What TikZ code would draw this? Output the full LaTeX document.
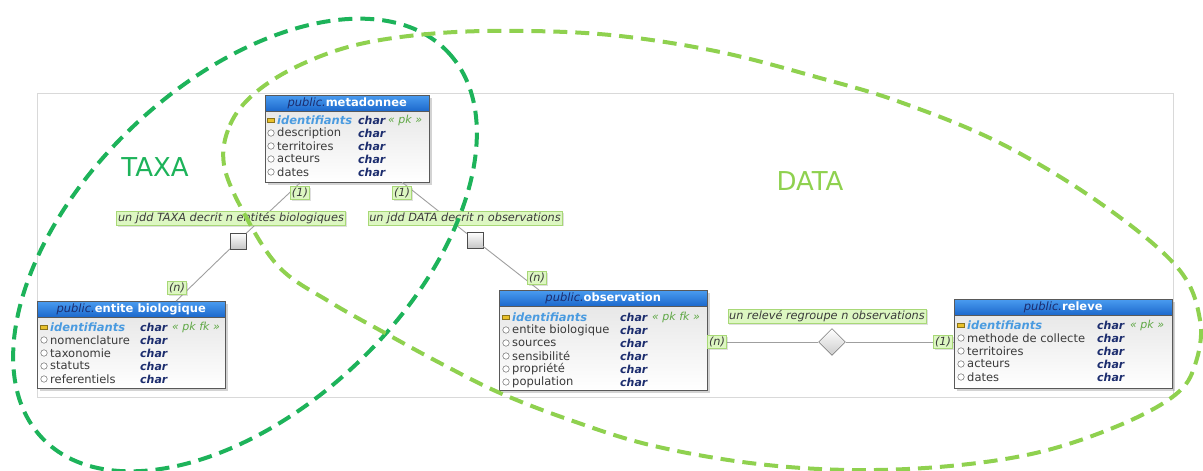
\documentclass[tikz,border=0pt]{standalone}
\usepackage{fontspec}
\setmainfont{DejaVu Sans}
\usepackage{xcolor}
\usetikzlibrary{shapes.geometric,shadows}

\definecolor{taxavert}{HTML}{1DB35A}
\definecolor{datavert}{HTML}{8FD14F}
\definecolor{bleuhaut}{HTML}{4A9CF0}
\definecolor{bleubas}{HTML}{1C68CC}
\definecolor{marine}{HTML}{1C2D6E}
\definecolor{bleuid}{HTML}{4A9BE0}
\definecolor{vertpk}{HTML}{5FA845}
\definecolor{texte}{HTML}{3A3A3A}
\definecolor{vertpale}{HTML}{DDF7C2}
\definecolor{vertbord}{HTML}{A8D877}
\definecolor{clejaune}{HTML}{E8C02A}

\begin{document}
\begin{tikzpicture}[x=1pt, y=-1pt,
      table/.style = {draw=gray!70!black, anchor=north west, inner sep=0pt,
        top color=gray!22, bottom color=white,
        drop shadow={shadow xshift=2.5pt, shadow yshift=-2.5pt, opacity=.35}},
      titre/.style = {draw=gray!70!black, anchor=north west, inner sep=0pt,
        minimum height=16, top color=bleuhaut, bottom color=bleubas,
        font=\fontsize{11.5}{13}\selectfont},
      champ/.style = {anchor=west, inner sep=0pt, text=texte,
        font=\fontsize{11.5}{13}\selectfont},
      ident/.style = {champ, text=bleuid,
        font=\fontsize{11.5}{13}\selectfont\bfseries\itshape},
      typ/.style = {champ, text=marine,
        font=\fontsize{11}{13}\selectfont\bfseries\itshape},
      contrainte/.style = {champ, text=vertpk,
        font=\fontsize{11}{13}\selectfont\itshape},
      rond/.style = {circle, draw=gray!60!black, fill=white,
        minimum size=6.5, inner sep=0pt},
      cle/.style = {rectangle, draw=clejaune!60!black, fill=clejaune,
        minimum width=7, minimum height=4, inner sep=0pt},
      carte/.style = {draw=vertbord, fill=vertpale, inner sep=1.5pt,
        font=\fontsize{11.3}{13}\selectfont\itshape, text=texte,
        drop shadow={shadow xshift=1.5pt, shadow yshift=-1.5pt, opacity=.25}},
      assoc/.style = {rectangle, draw=gray!60!black, top color=white,
        bottom color=gray!45, minimum size=16, inner sep=0pt},
      losange/.style = {diamond, draw=gray!60!black, top color=white,
        bottom color=gray!40, minimum width=27, minimum height=27, inner sep=0pt},
      lien/.style = {draw=gray!75, line width=0.9},
      ens/.style = {line width=4, dash pattern=on 14pt off 8pt},
      grand/.style = {font=\fontsize{26}{30}\selectfont}]
  \useasboundingbox (0,0) rectangle (1203,471);
  \draw[draw=gray!30, line width=0.8] (37,93) rectangle (1173,397);

  % metadonnee
  \node[table, minimum width=164, minimum height=87] (meta) at (265,95) {};
  \node[titre, minimum width=164] (meta-h) at (265,95)
    {\textcolor{marine}{\textit{public.}}\textcolor{white}{\textbf{metadonnee}}};
  \node[cle] (meta-k) at (271,120) {};
  \node[ident] (meta-id) at (277,120) {identifiants};
  \foreach \nom [count=\i] in {description,territoires,acteurs,dates}{
    \node[rond] (meta-r\i) at (271,120+13*\i) {};
    \node[champ] (meta-c\i) at (277,120+13*\i) {\nom};
  }
  \foreach \i in {0,...,4}
    \node[typ] (meta-t\i) at (358,120+13*\i) {char};
  \node[contrainte] (meta-pk) at (388,120) {« pk »};

  % entite biologique
  \node[table, minimum width=188, minimum height=87] (ent) at (37,301) {};
  \node[titre, minimum width=188] (ent-h) at (37,301)
    {\textcolor{marine}{\textit{public.}}\textcolor{white}{\textbf{entite biologique}}};
  \node[cle] (ent-k) at (44,327) {};
  \node[ident] (ent-id) at (50,327) {identifiants};
  \foreach \nom [count=\i] in {nomenclature,taxonomie,statuts,referentiels}{
    \node[rond] (ent-r\i) at (44,327+13*\i) {};
    \node[champ] (ent-c\i) at (50,327+13*\i) {\nom};
  }
  \foreach \i in {0,...,4}
    \node[typ] (ent-t\i) at (140,327+13*\i) {char};
  \node[contrainte] (ent-pk) at (172,327) {« pk fk »};

  % observation
  \node[table, minimum width=208, minimum height=100] (obs) at (499,290) {};
  \node[titre, minimum width=208] (obs-h) at (499,290)
    {\textcolor{marine}{\textit{public.}}\textcolor{white}{\textbf{observation}}};
  \node[cle] (obs-k) at (506,317) {};
  \node[ident] (obs-id) at (512,317) {identifiants};
  \foreach \nom [count=\i] in {entite biologique,sources,sensibilité,propriété,population}{
    \node[rond] (obs-r\i) at (506,317+13*\i) {};
    \node[champ] (obs-c\i) at (512,317+13*\i) {\nom};
  }
  \foreach \i in {0,...,5}
    \node[typ] (obs-t\i) at (620,317+13*\i) {char};
  \node[contrainte] (obs-pk) at (652,317) {« pk fk »};

  % releve
  \node[table, minimum width=218, minimum height=89] (rel) at (954,299) {};
  \node[titre, minimum width=218] (rel-h) at (954,299)
    {\textcolor{marine}{\textit{public.}}\textcolor{white}{\textbf{releve}}};
  \node[cle] (rel-k) at (961,325) {};
  \node[ident] (rel-id) at (967,325) {identifiants};
  \foreach \nom [count=\i] in {methode de collecte,territoires,acteurs,dates}{
    \node[rond] (rel-r\i) at (961,325+13*\i) {};
    \node[champ] (rel-c\i) at (967,325+13*\i) {\nom};
  }
  \foreach \i in {0,...,4}
    \node[typ] (rel-t\i) at (1097,325+13*\i) {char};
  \node[contrainte] (rel-pk) at (1130,325) {« pk »};

  % relations
  \node[assoc] (decrit1) at (238,241) {};
  \node[assoc] (decrit2) at (475,240) {};
  \node[losange] (regroupe) at (832,342) {};
  \draw[lien] (meta) -- (decrit1) -- (ent);
  \draw[lien] (meta) -- (decrit2) -- (obs);
  \draw[lien] (obs.east |- regroupe) -- (regroupe) -- (rel.west |- regroupe);

  \node[carte] (jdd-taxa) at (231,218) {un jdd TAXA decrit n entités biologiques};
  \node[carte] (jdd-data) at (465,218) {un jdd DATA decrit n observations};
  \node[carte] (releve-obs) at (827,316) {un relevé regroupe n observations};
  \node[carte] (card1) at (300,193) {(1)};
  \node[carte] (card2) at (177,288) {(n)};
  \node[carte] (card3) at (402,193) {(1)};
  \node[carte] (card4) at (537,278) {(n)};
  \node[carte] (card5) at (717,342) {(n)};
  \node[carte] (card6) at (943,342) {(1)};

  % ensembles
  \node[grand, text=taxavert] (taxa) at (155,167) {TAXA};
  \node[grand, text=datavert] (data) at (810,181) {DATA};
  \draw[ens, draw=taxavert, rotate around={43.6:(245,245)}]
    (245,245) ellipse [x radius=280, y radius=163];
  \draw[ens, draw=datavert] plot[smooth cycle, tension=0.6] coordinates {
    (224,165) (230,125) (255,93) (300,65) (360,44) (440,33) (530,31)
    (620,36) (720,52) (820,78) (900,102) (1000,143) (1100,203) (1177,267)
    (1200,320) (1195,365) (1175,395) (1120,425) (1040,452) (950,466)
    (850,470) (750,463) (650,445) (570,420) (500,393) (440,363) (385,333)
    (330,302) (280,268) (245,215)};
\end{tikzpicture}
\end{document}
